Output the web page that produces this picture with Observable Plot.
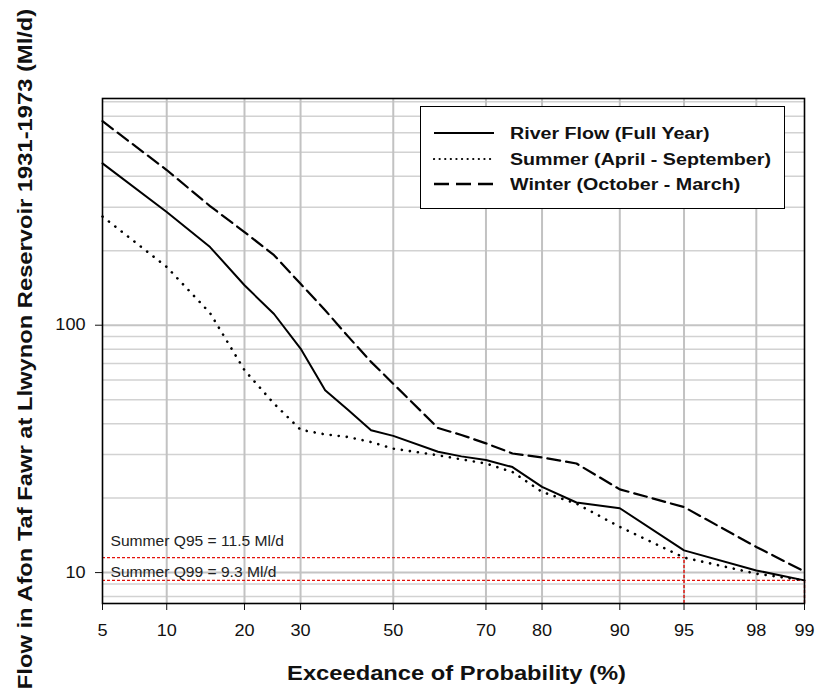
<!DOCTYPE html>
<html><head><meta charset="utf-8">
<script src="https://cdn.jsdelivr.net/npm/d3@7"></script>
<script src="https://cdn.jsdelivr.net/npm/@observablehq/plot@0.6"></script>
<style>
body{margin:0;background:#fff;font-family:"Liberation Sans",Arial,sans-serif;}
#wrap{position:relative;width:816px;height:692px;}
#legend{position:absolute;left:420px;top:106px;width:365px;height:103px;border:1.5px solid #000;background:#fff;box-sizing:border-box;}
.lrow{position:absolute;left:0;height:22px;display:flex;align-items:center;white-space:nowrap;}
.lrow svg{margin-left:12px;}
.lrow span{margin-left:15px;font-weight:bold;font-size:17.4px;color:#111;display:inline-block;transform:scaleX(1.13);transform-origin:left center;}
</style></head><body><div id="wrap"></div>
<script>
// Exceedance probabilities (%) and flows (Ml/d)
const exceedance = [5,10,15,20,25,30,35,40,45,50,60,65,70,75,80,85,90,95,98,99];
const fullYear = [451,287,207,145,111,80.5,54.6,45.3,37.6,35.7,30.8,29.5,28.5,26.7,22.2,19.2,18.2,12.3,10.2,9.3];
const summer   = [275,172,112,65.8,48.2,37.8,36.2,35.3,33.7,31.7,29.8,28.7,27.6,25.5,21.2,19.0,15.3,11.5,9.9,9.3];
const winter   = [668,424,303,238,192,147,115,89.7,71.1,58,38.4,36.0,33.3,30.3,29.2,27.6,21.7,18.4,12.7,10.1];
const seriesNames = ["River Flow (Full Year)","Summer (April - September)","Winter (October - March)"];
const xTicks = [5,10,20,30,50,70,80,90,95,98,99];
const yTicks = [10,100];
const yGridMinor = [8,9,20,30,40,50,60,70,80,90,200,300,400,500,600,700,800];
const yDomain = [7.5,825];
const q95 = 11.5, q99 = 9.3;
const q95Label = "Summer Q95 = 11.5 Ml/d";
const q99Label = "Summer Q99 = 9.3 Ml/d";
const xTitle = "Exceedance of Probability (%)";
const yTitle = "Flow in Afon Taf Fawr at Llwynon Reservoir 1931-1973 (Ml/d)";

// inverse normal CDF (Acklam)
function probit(p){
 const a=[-3.969683028665376e+01,2.209460984245205e+02,-2.759285104469687e+02,1.383577518672690e+02,-3.066479806614716e+01,2.506628277459239e+00];
 const b=[-5.447609879822406e+01,1.615858368580409e+02,-1.556989798598866e+02,6.680131188771972e+01,-1.328068155288572e+01];
 const c=[-7.784894002430293e-03,-3.223964580411365e-01,-2.400758277161838e+00,-2.549732539343734e+00,4.374664141464968e+00,2.938163982698783e+00];
 const d=[7.784695709041462e-03,3.224671290700398e-01,2.445134137142996e+00,3.754408661907416e+00];
 const pl=0.02425, ph=1-pl; let q,r;
 if(p<pl){q=Math.sqrt(-2*Math.log(p));return (((((c[0]*q+c[1])*q+c[2])*q+c[3])*q+c[4])*q+c[5])/((((d[0]*q+d[1])*q+d[2])*q+d[3])*q+1);}
 if(p<=ph){q=p-0.5;r=q*q;return (((((a[0]*r+a[1])*r+a[2])*r+a[3])*r+a[4])*r+a[5])*q/(((((b[0]*r+b[1])*r+b[2])*r+b[3])*r+b[4])*r+1);}
 q=Math.sqrt(-2*Math.log(1-p));return -(((((c[0]*q+c[1])*q+c[2])*q+c[3])*q+c[4])*q+c[5])/((((d[0]*q+d[1])*q+d[2])*q+d[3])*q+1);
}
const z = pct => probit(pct/100);

const mk = arr => exceedance.map((e,i)=>({e, v: arr[i]}));
const full = mk(fullYear), sum = mk(summer), win = mk(winter);

const font = "Liberation Sans, Arial, sans-serif";
const red = "#e3120b";
const chart = Plot.plot({
  width:816, height:692, marginLeft:102, marginRight:12, marginTop:98, marginBottom:89,
  style:{fontFamily:font, fontSize:"16px", background:"#fff", color:"#111"},
  x:{type:"linear", domain:[z(5), z(99)], ticks: xTicks.map(z),
     tickFormat: v => String(xTicks[d3.minIndex(xTicks, t => Math.abs(z(t)-v))]),
     tickSize:7, tickPadding:14, label:null},
  y:{type:"log", domain:yDomain, ticks:yTicks, tickFormat: d => String(d), tickSize:7, tickPadding:10, label:null},
  marks:[
    Plot.ruleY(yGridMinor, {stroke:"#d2d2d2", strokeWidth:1.5}),
    Plot.ruleY(yTicks, {stroke:"#c4c4c4", strokeWidth:2}),
    Plot.ruleX(xTicks.slice(1,-1), {x: z, stroke:"#c2c2c2", strokeWidth:2}),
    // red reference lines
    Plot.ruleY([q95], {x1: z(5), x2: z(95), stroke:red, strokeWidth:1.4, strokeDasharray:"3 2"}),
    Plot.ruleX([95], {x: z, y1: yDomain[0], y2: q95, stroke:red, strokeWidth:1.4, strokeDasharray:"3 2"}),
    Plot.ruleY([q99], {x1: z(5), x2: z(99), stroke:red, strokeWidth:1.4, strokeDasharray:"3 2"}),
    Plot.ruleX([99], {x: z, y1: yDomain[0], y2: q99, stroke:red, strokeWidth:1.4, strokeDasharray:"3 2"}),
    Plot.text([q95Label], {x: z(5), y: q95, text: d=>d, textAnchor:"start", dx:8, dy:-16, fontSize:13.8, fill:"#222"}),
    Plot.text([q99Label], {x: z(5), y: q99, text: d=>d, textAnchor:"start", dx:8, dy:-8, fontSize:13.8, fill:"#222"}),
    // series
    Plot.line(win, {x: d=>z(d.e), y:"v", stroke:"#000", strokeWidth:2.2, strokeDasharray:"13 6"}),
    Plot.line(sum, {x: d=>z(d.e), y:"v", stroke:"#000", strokeWidth:2.6, strokeDasharray:"0.1 8", strokeLinecap:"round"}),
    Plot.line(full, {x: d=>z(d.e), y:"v", stroke:"#000", strokeWidth:2}),
    Plot.frame({stroke:"#000", strokeWidth:1.6}),
    // axis titles
    Plot.text([xTitle], {frameAnchor:"bottom", text:d=>d, lineAnchor:"middle", textAnchor:"middle", dy:70, dx:3, fontSize:21, fontWeight:"bold", fill:"#111"}),
    Plot.text([yTitle], {frameAnchor:"left", text:d=>d, rotate:-90, textAnchor:"middle", lineAnchor:"middle", dx:-77, dy:-2, fontSize:21, fontWeight:"bold", fill:"#111"})
  ]
});
const wrap = document.getElementById("wrap");
wrap.appendChild(chart);

// wide lettering, as in the reference
const svg = wrap.querySelector("svg");
svg.querySelectorAll("text").forEach(t => {
  const len = t.getComputedTextLength();
  if (len > 0) { t.setAttribute("textLength", (len*1.13).toFixed(1)); t.setAttribute("lengthAdjust","spacingAndGlyphs"); }
});

// legend
const legend = document.createElement("div");
legend.id = "legend";
const styles = [
  {dash:null, w:2},
  {dash:"0.1 5.5", w:2.2, cap:"round"},
  {dash:"15 7", w:2.4}
];
const tops = [15, 41, 66];
seriesNames.forEach((name,i)=>{
  const row = document.createElement("div");
  row.className = "lrow"; row.style.top = tops[i] + "px";
  const s = styles[i];
  row.innerHTML = `<svg width="62" height="10"><line x1="1" y1="5" x2="61" y2="5" stroke="#000" stroke-width="${s.w}" ${s.dash?`stroke-dasharray="${s.dash}"`:""} ${s.cap?`stroke-linecap="${s.cap}"`:""}/></svg><span>${name}</span>`;
  legend.appendChild(row);
});
wrap.appendChild(legend);
</script></body></html>
